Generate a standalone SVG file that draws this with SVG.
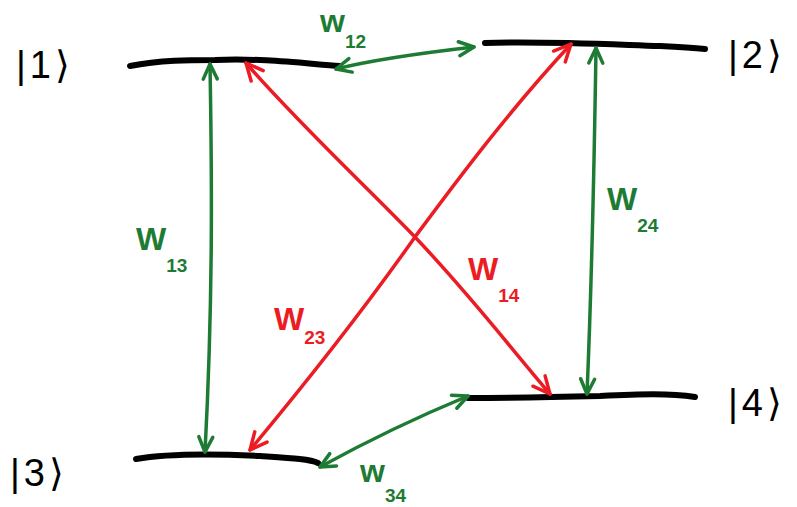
<svg xmlns="http://www.w3.org/2000/svg" width="797" height="507" viewBox="0 0 797 507">
<style>
.lvl{fill:none;stroke:#000;stroke-width:6;stroke-linecap:round;stroke-linejoin:round}
.g{fill:none;stroke:#1e7b34;stroke-width:3.5;stroke-linecap:round}
.r{fill:none;stroke:#ec1c24;stroke-width:3.5;stroke-linecap:round}
.ket{font-family:"Liberation Sans","DejaVu Sans",sans-serif;font-size:38px;fill:#000;letter-spacing:4px}
.lg{font-family:"Liberation Sans","DejaVu Sans",sans-serif;font-size:32px;font-weight:bold;fill:#1e7b34}
.lr{font-family:"Liberation Sans","DejaVu Sans",sans-serif;font-size:32px;font-weight:bold;fill:#ec1c24}
.sub{font-size:19px}
</style>
<defs>
<marker id="ag" viewBox="-18 -10 22 20" refX="0" refY="0" markerWidth="22" markerHeight="20" markerUnits="userSpaceOnUse" orient="auto-start-reverse" overflow="visible">
<path d="M-15,-7 L0,0 L-15,7" fill="none" stroke="#1e7b34" stroke-width="3.5" stroke-linecap="round" stroke-linejoin="round"/>
</marker>
<marker id="ar" viewBox="-18 -10 22 20" refX="0" refY="0" markerWidth="22" markerHeight="20" markerUnits="userSpaceOnUse" orient="auto-start-reverse" overflow="visible">
<path d="M-17,-8 L0,0 L-17,8" fill="none" stroke="#ec1c24" stroke-width="3.5" stroke-linecap="round" stroke-linejoin="round"/>
</marker>
</defs>
<g id="level1">
<path class="lvl" d="M130,66 C160,60 190,60 215,60 C260,58 300,63 340,66"/>
<text class="ket" x="16" y="78">|1⟩</text>
</g>
<g id="level2">
<path class="lvl" d="M485,43 C540,41 600,44 660,46 C680,47 695,48 705,49"/>
<text class="ket" x="728" y="68">|2⟩</text>
</g>
<g id="level3">
<path class="lvl" d="M136,459 C170,453 220,454 260,456 C290,458 310,459 318,463"/>
<text class="ket" x="10" y="486">|3⟩</text>
</g>
<g id="level4">
<path class="lvl" d="M468,398 C520,398 560,397 600,396 C640,394 670,393 695,397"/>
<text class="ket" x="728" y="416">|4⟩</text>
</g>
<g id="connectors">
<path class="g" marker-start="url(#ag)" marker-end="url(#ag)" d="M210,64 C212,180 213,300 205,452"/>
<path class="g" marker-start="url(#ag)" marker-end="url(#ag)" d="M596,48 C594,180 591,300 587,394"/>
<path class="g" marker-start="url(#ag)" marker-end="url(#ag)" d="M336,69 C380,58 430,52 474,47"/>
<path class="g" marker-start="url(#ag)" marker-end="url(#ag)" d="M320,467 C360,445 410,420 468,396"/>
<path class="r" marker-start="url(#ar)" marker-end="url(#ar)" d="M246,63 C300,125 370,190 415,237 C470,295 500,335 550,394"/>
<path class="r" marker-start="url(#ar)" marker-end="url(#ar)" d="M571,44 C505,115 450,190 415,237 C360,315 300,390 250,450"/>
</g>
<g id="labels">
<text class="lg" x="320" y="32">w<tspan class="sub" dy="16">12</tspan></text>
<text class="lg" x="136" y="250">W<tspan class="sub" dy="22">13</tspan></text>
<text class="lr" x="468" y="280">W<tspan class="sub" dy="22">14</tspan></text>
<text class="lr" x="274" y="330">W<tspan class="sub" dy="14">23</tspan></text>
<text class="lg" x="607" y="210">W<tspan class="sub" dy="22">24</tspan></text>
<text class="lg" x="360" y="482">w<tspan class="sub" dy="20">34</tspan></text>
</g>
</svg>
